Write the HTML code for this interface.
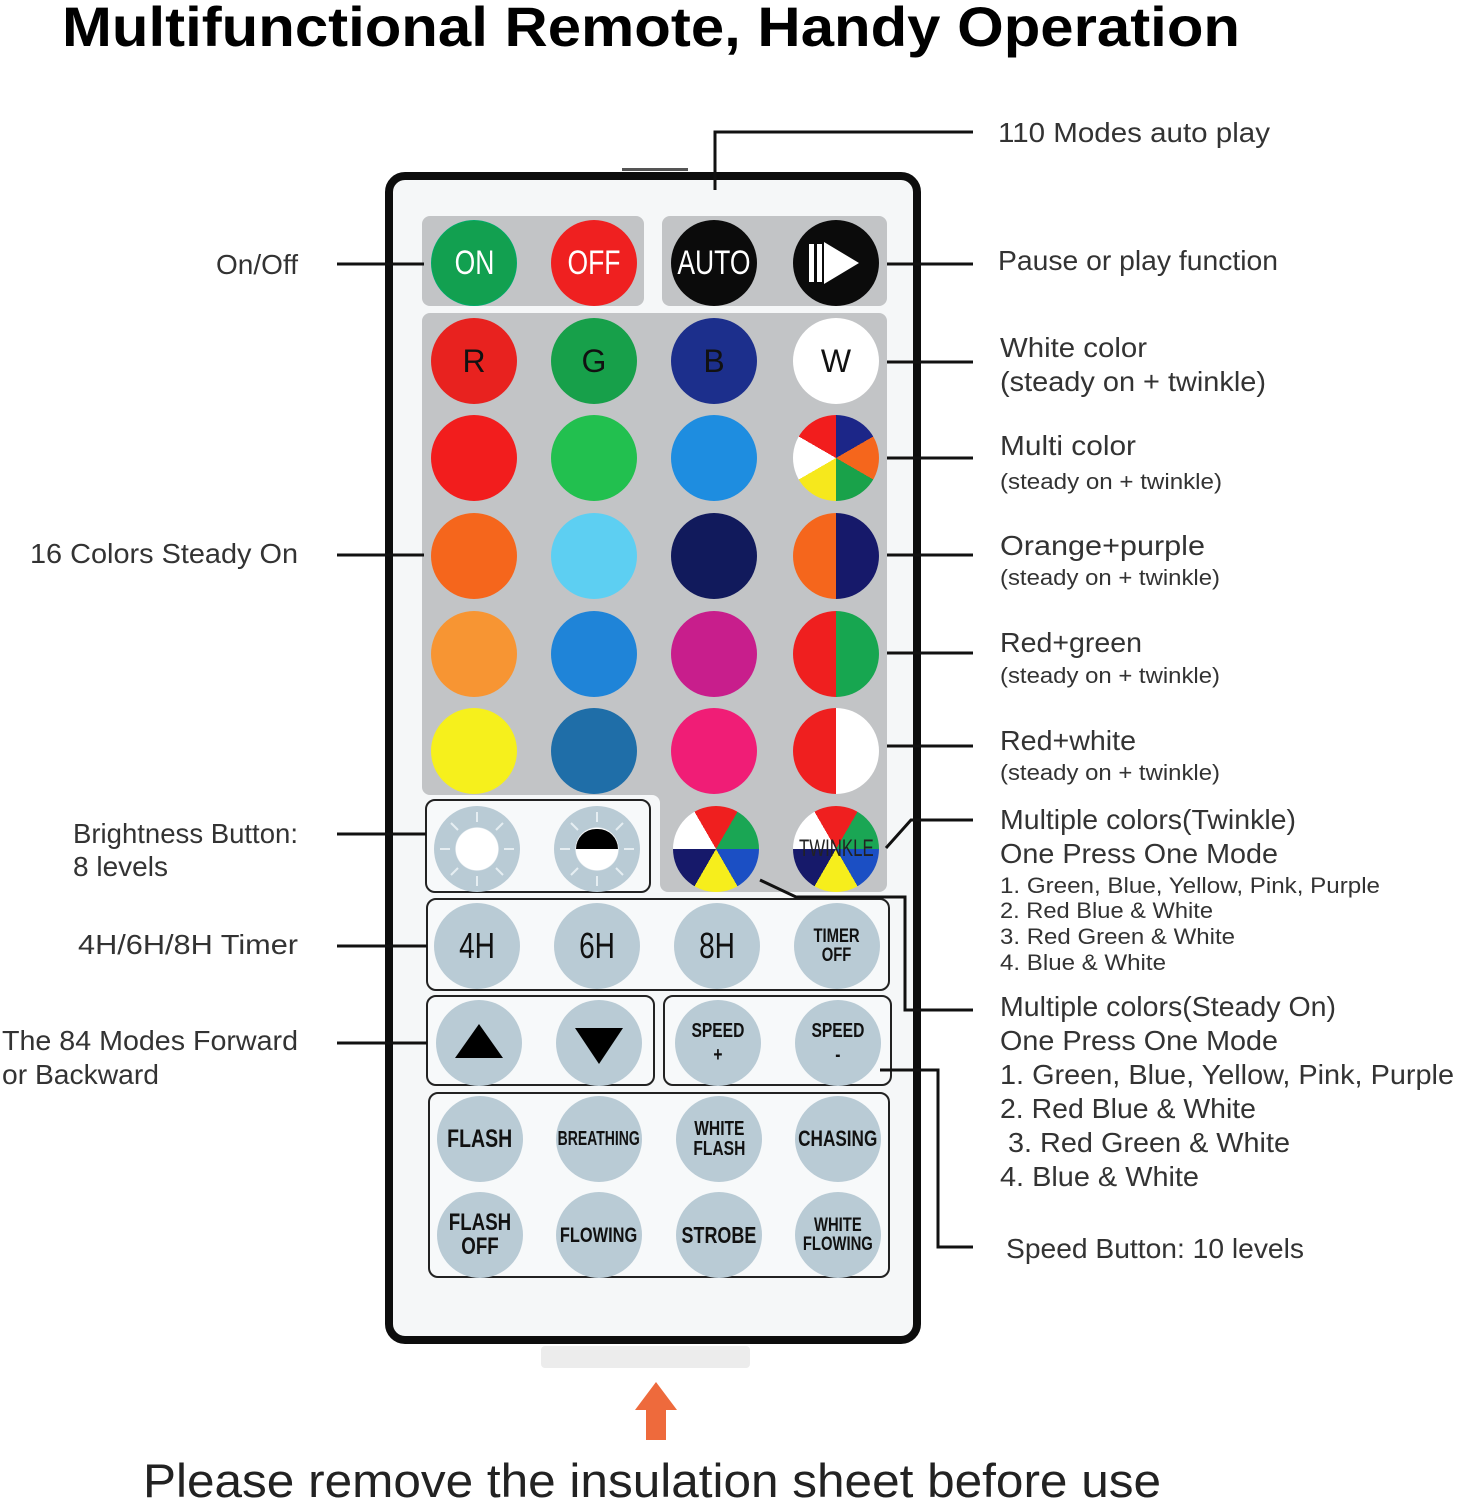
<!DOCTYPE html>
<html><head><meta charset="utf-8">
<style>
html,body{margin:0;padding:0;background:#fff;}
#w{position:relative;width:1457px;height:1500px;overflow:hidden;background:#fff;font-family:"Liberation Sans",sans-serif;}
svg{position:absolute;left:0;top:0;}
.b{position:absolute;width:86px;height:86px;border-radius:50%;display:flex;align-items:center;justify-content:center;text-align:center;box-sizing:border-box;}
.g{background:#b9cbd5;color:#111;font-weight:bold;}
.t{display:inline-block;transform:scaleX(.78);line-height:1;}
</style></head><body><div id="w">
<svg width="1457" height="1500">
 <rect x="389" y="176" width="528" height="1164" rx="16" fill="#f5f7f8" stroke="#0d0d0d" stroke-width="8"/>
 <rect x="622" y="168" width="66" height="3" fill="#555"/>
 <rect x="422" y="216" width="222" height="90" rx="8" fill="#c2c4c6"/>
 <rect x="662" y="216" width="225" height="90" rx="8" fill="#c2c4c6"/>
 <path d="M430 313 H879 a8 8 0 0 1 8 8 V884 a8 8 0 0 1 -8 8 H668 a8 8 0 0 1 -8 -8 V803 a8 8 0 0 0 -8 -8 H430 a8 8 0 0 1 -8 -8 V321 a8 8 0 0 1 8 -8z" fill="#c2c4c6"/>
 <rect x="426" y="800" width="224" height="92" rx="9" fill="#f7f9fa" stroke="#222" stroke-width="2"/>
 <rect x="427" y="899" width="462" height="91" rx="9" fill="#f7f9fa" stroke="#222" stroke-width="2"/>
 <rect x="427" y="996" width="227" height="89" rx="9" fill="#f7f9fa" stroke="#222" stroke-width="2"/>
 <rect x="664" y="996" width="227" height="89" rx="9" fill="#f7f9fa" stroke="#222" stroke-width="2"/>
 <rect x="429" y="1093" width="460" height="184" rx="9" fill="#f7f9fa" stroke="#222" stroke-width="2"/>
 <rect x="541" y="1346" width="209" height="22" rx="4" fill="#ececec"/>
 <polygon points="656,1382 677,1410 666,1410 666,1440 646,1440 646,1410 635,1410" fill="#ee6a3c"/>
 <g stroke="#111" stroke-width="3" fill="none">
  <polyline points="715,190 715,132 973,132"/>
  <line x1="337" y1="264" x2="424" y2="264"/>
  <line x1="337" y1="555" x2="424" y2="555"/>
  <line x1="337" y1="834" x2="426" y2="834"/>
  <line x1="337" y1="946" x2="427" y2="946"/>
  <line x1="337" y1="1043" x2="427" y2="1043"/>
  <line x1="887" y1="264" x2="973" y2="264"/>
  <line x1="887" y1="362" x2="973" y2="362"/>
  <line x1="887" y1="458" x2="973" y2="458"/>
  <line x1="887" y1="555" x2="973" y2="555"/>
  <line x1="887" y1="653" x2="973" y2="653"/>
  <line x1="887" y1="746" x2="973" y2="746"/>
  <polyline points="886,848 911,820 973,820"/>
  <polyline points="760,880 796,897 905,897 905,1010 973,1010"/>
  <polyline points="880,1070 938,1070 938,1247 973,1247"/>
 </g>
 <text x="62" y="46" font-size="56" font-weight="bold" textLength="1178" lengthAdjust="spacingAndGlyphs" fill="#000">Multifunctional Remote, Handy Operation</text>
 <g fill="#333" font-size="28">
  <text x="298" y="274" text-anchor="end">On/Off</text>
  <text x="298" y="563" text-anchor="end" textLength="268" lengthAdjust="spacingAndGlyphs">16 Colors Steady On</text>
  <text x="73" y="843" textLength="225" lengthAdjust="spacingAndGlyphs">Brightness Button:</text>
  <text x="73" y="876">8 levels</text>
  <text x="298" y="954" text-anchor="end" textLength="220" lengthAdjust="spacingAndGlyphs">4H/6H/8H Timer</text>
  <text x="2" y="1050" textLength="296" lengthAdjust="spacingAndGlyphs">The 84 Modes Forward</text>
  <text x="2" y="1084" textLength="157" lengthAdjust="spacingAndGlyphs">or Backward</text>
  <text x="998" y="142" textLength="272" lengthAdjust="spacingAndGlyphs">110 Modes auto play</text>
  <text x="998" y="270" textLength="280" lengthAdjust="spacingAndGlyphs">Pause or play function</text>
  <text x="1000" y="357" textLength="147" lengthAdjust="spacingAndGlyphs">White color</text>
  <text x="1000" y="391" textLength="266" lengthAdjust="spacingAndGlyphs">(steady on + twinkle)</text>
  <text x="1000" y="455" textLength="136" lengthAdjust="spacingAndGlyphs">Multi color</text>
  <text x="1000" y="555" textLength="205" lengthAdjust="spacingAndGlyphs">Orange+purple</text>
  <text x="1000" y="652" textLength="142" lengthAdjust="spacingAndGlyphs">Red+green</text>
  <text x="1000" y="750" textLength="136" lengthAdjust="spacingAndGlyphs">Red+white</text>
  <text x="1000" y="829" textLength="296" lengthAdjust="spacingAndGlyphs">Multiple colors(Twinkle)</text>
  <text x="1000" y="863" textLength="278" lengthAdjust="spacingAndGlyphs">One Press One Mode</text>
  <text x="1000" y="1016" textLength="336" lengthAdjust="spacingAndGlyphs">Multiple colors(Steady On)</text>
  <text x="1000" y="1050" textLength="278" lengthAdjust="spacingAndGlyphs">One Press One Mode</text>
  <text x="1000" y="1084" textLength="454" lengthAdjust="spacingAndGlyphs">1. Green, Blue, Yellow, Pink, Purple</text>
  <text x="1000" y="1118" textLength="256" lengthAdjust="spacingAndGlyphs">2. Red Blue &amp; White</text>
  <text x="1008" y="1152" textLength="282" lengthAdjust="spacingAndGlyphs">3. Red Green &amp; White</text>
  <text x="1000" y="1186" textLength="199" lengthAdjust="spacingAndGlyphs">4. Blue &amp; White</text>
  <text x="1006" y="1258" textLength="298" lengthAdjust="spacingAndGlyphs">Speed Button: 10 levels</text>
 </g>
 <g fill="#333" font-size="22">
  <text x="1000" y="489" textLength="222" lengthAdjust="spacingAndGlyphs">(steady on + twinkle)</text>
  <text x="1000" y="585" textLength="220" lengthAdjust="spacingAndGlyphs">(steady on + twinkle)</text>
  <text x="1000" y="683" textLength="220" lengthAdjust="spacingAndGlyphs">(steady on + twinkle)</text>
  <text x="1000" y="780" textLength="220" lengthAdjust="spacingAndGlyphs">(steady on + twinkle)</text>
  <text x="1000" y="893" textLength="380" lengthAdjust="spacingAndGlyphs">1. Green, Blue, Yellow, Pink, Purple</text>
  <text x="1000" y="918" textLength="213" lengthAdjust="spacingAndGlyphs">2. Red Blue &amp; White</text>
  <text x="1000" y="944" textLength="235" lengthAdjust="spacingAndGlyphs">3. Red Green &amp; White</text>
  <text x="1000" y="970" textLength="166" lengthAdjust="spacingAndGlyphs">4. Blue &amp; White</text>
 </g>
 <text x="143" y="1497" font-size="47" fill="#222" textLength="1018" lengthAdjust="spacingAndGlyphs">Please remove the insulation sheet before use</text>
</svg>

<div class="b" style="left:431px;top:220px;background:#12a050;color:#fff;font-size:34px;border:1px solid #0a6;"><span class="t">ON</span></div>
<div class="b" style="left:551px;top:220px;background:#ef2020;color:#fff;font-size:34px;"><span class="t">OFF</span></div>
<div class="b" style="left:671px;top:220px;background:#0b0b0b;color:#fff;font-size:34px;"><span class="t">AUTO</span></div>
<div class="b" style="left:793px;top:220px;background:#0b0b0b;"><svg width="86" height="86" style="position:static"><rect x="16" y="24" width="5" height="38" fill="#fff"/><rect x="24" y="24" width="5" height="38" fill="#fff"/><polygon points="31,22 66,43 31,64" fill="#fff"/></svg></div>
<div class="b" style="left:431px;top:318px;background:#e8221f;font-size:32px;color:#111;">R</div>
<div class="b" style="left:551px;top:318px;background:#17a04a;font-size:32px;color:#111;">G</div>
<div class="b" style="left:671px;top:318px;background:#1c2f8c;font-size:32px;color:#111;">B</div>
<div class="b" style="left:793px;top:318px;background:#fff;font-size:32px;color:#111;">W</div>
<div class="b" style="left:431px;top:415px;background:#f21d1d;"></div>
<div class="b" style="left:551px;top:415px;background:#22c04f;"></div>
<div class="b" style="left:671px;top:415px;background:#1e8de0;"></div>
<div class="b" style="left:793px;top:415px;background:conic-gradient(from -60deg,#f21d1d 0 60deg,#1c2688 60deg 120deg,#f5661c 120deg 180deg,#19a24a 180deg 240deg,#f6e81c 240deg 300deg,#fff 300deg 360deg);"></div>
<div class="b" style="left:431px;top:513px;background:#f5661c;"></div>
<div class="b" style="left:551px;top:513px;background:#5dcff2;"></div>
<div class="b" style="left:671px;top:513px;background:#111a5c;"></div>
<div class="b" style="left:793px;top:513px;background:linear-gradient(90deg,#f5661c 50%,#16196a 50%);"></div>
<div class="b" style="left:431px;top:611px;background:#f79533;"></div>
<div class="b" style="left:551px;top:611px;background:#1f84d8;"></div>
<div class="b" style="left:671px;top:611px;background:#c81e8c;"></div>
<div class="b" style="left:793px;top:611px;background:linear-gradient(90deg,#ef1f1f 50%,#17a650 50%);"></div>
<div class="b" style="left:431px;top:708px;background:#f6f01c;"></div>
<div class="b" style="left:551px;top:708px;background:#1f6ea8;"></div>
<div class="b" style="left:671px;top:708px;background:#f01d76;"></div>
<div class="b" style="left:793px;top:708px;background:linear-gradient(90deg,#ef1f1f 50%,#fff 50%);"></div>
<div class="b g" style="left:434px;top:806px;background:radial-gradient(circle,#fff 0 21px,#b9cbd5 22px);"><svg width="86" height="86" style="position:absolute;left:0;top:0" stroke="#e6eef2" stroke-width="2"><line x1="43" y1="6" x2="43" y2="16"/><line x1="43" y1="70" x2="43" y2="80"/><line x1="6" y1="43" x2="16" y2="43"/><line x1="70" y1="43" x2="80" y2="43"/><line x1="17" y1="17" x2="24" y2="24"/><line x1="62" y1="62" x2="69" y2="69"/><line x1="69" y1="17" x2="62" y2="24"/><line x1="17" y1="69" x2="24" y2="62"/></svg></div>
<div class="b g" style="left:554px;top:806px;background:radial-gradient(circle,#fff 0 21px,#b9cbd5 22px);"><svg width="86" height="86" style="position:absolute;left:0;top:0" stroke="#e6eef2" stroke-width="2"><line x1="43" y1="6" x2="43" y2="16"/><line x1="43" y1="70" x2="43" y2="80"/><line x1="6" y1="43" x2="16" y2="43"/><line x1="70" y1="43" x2="80" y2="43"/><line x1="17" y1="17" x2="24" y2="24"/><line x1="62" y1="62" x2="69" y2="69"/><line x1="69" y1="17" x2="62" y2="24"/><line x1="17" y1="69" x2="24" y2="62"/></svg><div style="position:absolute;left:22px;top:23px;width:42px;height:20px;background:#000;border-radius:21px 21px 0 0;"></div></div>
<div class="b" style="left:673px;top:806px;background:conic-gradient(from -30deg,#ef1f1f 0 60deg,#1aa654 60deg 120deg,#1b4fc4 120deg 180deg,#f6ee1c 180deg 240deg,#16196a 240deg 300deg,#fff 300deg 360deg);"></div>
<div class="b" style="left:793px;top:806px;background:conic-gradient(from -30deg,#ef1f1f 0 60deg,#1aa654 60deg 120deg,#1b4fc4 120deg 180deg,#f6ee1c 180deg 240deg,#16196a 240deg 300deg,#fff 300deg 360deg);font-size:24px;color:#222;"><span class="t" style="transform:scaleX(.7)">TWINKLE</span></div>
<div class="b g" style="left:434px;top:903px;font-size:36px;font-weight:normal;"><span class="t">4H</span></div>
<div class="b g" style="left:554px;top:903px;font-size:36px;font-weight:normal;"><span class="t">6H</span></div>
<div class="b g" style="left:674px;top:903px;font-size:36px;font-weight:normal;"><span class="t">8H</span></div>
<div class="b g" style="left:794px;top:903px;font-size:19px;"><span class="t">TIMER<br>OFF</span></div>
<div class="b g" style="left:436px;top:1000px;"><svg width="86" height="86" style="position:static"><polygon points="43,24 67,58 19,58" fill="#000"/></svg></div>
<div class="b g" style="left:556px;top:1000px;"><svg width="86" height="86" style="position:static"><polygon points="19,28 67,28 43,64" fill="#000"/></svg></div>
<div class="b g" style="left:675px;top:1000px;font-size:20px;"><span class="t" style="line-height:1.2">SPEED<br>+</span></div>
<div class="b g" style="left:795px;top:1000px;font-size:20px;"><span class="t" style="line-height:1.2">SPEED<br>-</span></div>
<div class="b g" style="left:437px;top:1096px;font-size:25px;"><span class="t">FLASH</span></div>
<div class="b g" style="left:556px;top:1096px;font-size:20px;"><span class="t" style="transform:scaleX(.7)">BREATHING</span></div>
<div class="b g" style="left:676px;top:1096px;font-size:20px;"><span class="t">WHITE<br>FLASH</span></div>
<div class="b g" style="left:795px;top:1096px;font-size:22px;"><span class="t">CHASING</span></div>
<div class="b g" style="left:437px;top:1192px;font-size:24px;"><span class="t">FLASH<br>OFF</span></div>
<div class="b g" style="left:556px;top:1192px;font-size:21px;"><span class="t">FLOWING</span></div>
<div class="b g" style="left:676px;top:1192px;font-size:23px;"><span class="t">STROBE</span></div>
<div class="b g" style="left:795px;top:1192px;font-size:19px;"><span class="t">WHITE<br>FLOWING</span></div>
</div></body></html>
